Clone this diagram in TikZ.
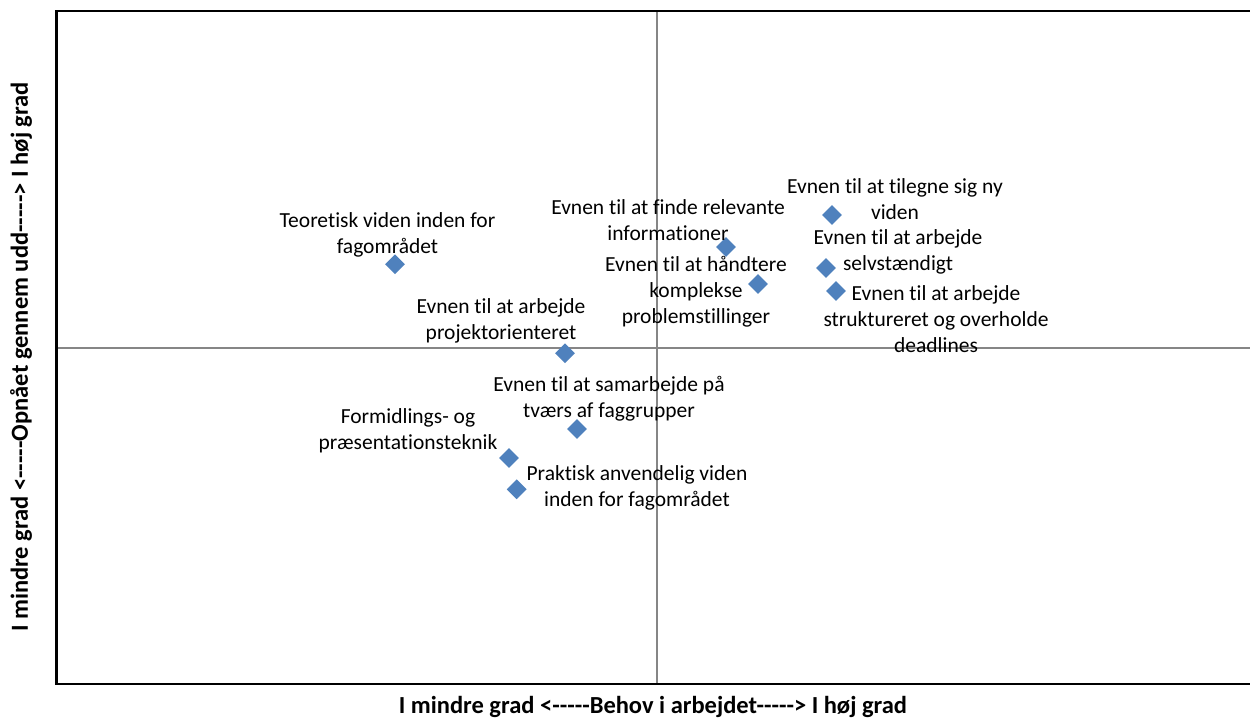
\documentclass[tikz,border=0pt]{standalone}
\usepackage{fontspec}
\setmainfont{Carlito}[Ligatures={NoCommon}]
\usetikzlibrary{shapes.geometric}
\definecolor{ptblue}{HTML}{4F81BD}
\definecolor{axisgray}{HTML}{868686}
\tikzset{
  pt/.style={diamond, fill=ptblue, draw=none, inner sep=0pt, minimum width=20pt, minimum height=20pt},
  lbl/.style={align=center, inner sep=0pt, font=\fontsize{21.5}{26}\selectfont},
  axtitle/.style={inner sep=0pt, font=\fontsize{24.5}{28}\selectfont\bfseries},
}
\newcommand{\dashfive}{-{}-{}-{}-{}-}
\begin{document}
\begin{tikzpicture}[x=1pt,y=-1pt]
\useasboundingbox (0,0) rectangle (1250,720);
\begin{scope}
\clip (0,0) rectangle (1250,720);
% quadrant axes
\draw[axisgray, line width=2pt] (656.7,11) -- (656.7,684);
\draw[axisgray, line width=2pt] (56.5,347.7) -- (1257,347.7);
% frame
\draw[black, line width=2.5pt] (56.5,11) rectangle (1257,684);
\end{scope}
% points
\node[pt] (p1) at (395,264.3) {};
\node[pt] (p2) at (565,353.3) {};
\node[pt] (p3) at (726,247) {};
\node[pt] (p4) at (758,284) {};
\node[pt] (p5) at (832,215) {};
\node[pt] (p6) at (826,268) {};
\node[pt] (p7) at (836,291) {};
\node[pt] (p8) at (577,429) {};
\node[pt] (p9) at (509,458) {};
\node[pt] (p10) at (516.7,489.3) {};
% labels
\node[lbl] (l1) at (387.5,235) {Teoretisk viden inden for\\fagområdet};
\node[lbl] (l2) at (501,320.5) {Evnen til at arbejde\\projektorienteret};
\node[lbl] (l3) at (668,220.5) {Evnen til at finde relevante\\informationer};
\node[lbl] (l4) at (696,292) {Evnen til at håndtere\\komplekse\\problemstillinger};
\node[lbl] (l5) at (895,199.5) {Evnen til at tilegne sig ny\\viden};
\node[lbl] (l6) at (898,252) {Evnen til at arbejde\\selvstændigt};
\node[lbl] (l7) at (936,319.5) {Evnen til at arbejde\\struktureret og overholde\\deadlines};
\node[lbl] (l8) at (609,399) {Evnen til at samarbejde på\\tværs af faggrupper};
\node[lbl] (l9) at (408,430.5) {Formidlings- og\\præsentationsteknik};
\node[lbl] (l10) at (637,487.5) {Praktisk anvendelig viden\\inden for fagområdet};
% axis titles
\node[axtitle] (xt) at (653,707) {I mindre grad <\dashfive Behov i arbejdet\dashfive> I høj grad};
\node[axtitle, rotate=90] (yt) at (21,357) {I mindre grad <\dashfive Opnået gennem udd\dashfive> I høj grad};
\end{tikzpicture}
\end{document}
